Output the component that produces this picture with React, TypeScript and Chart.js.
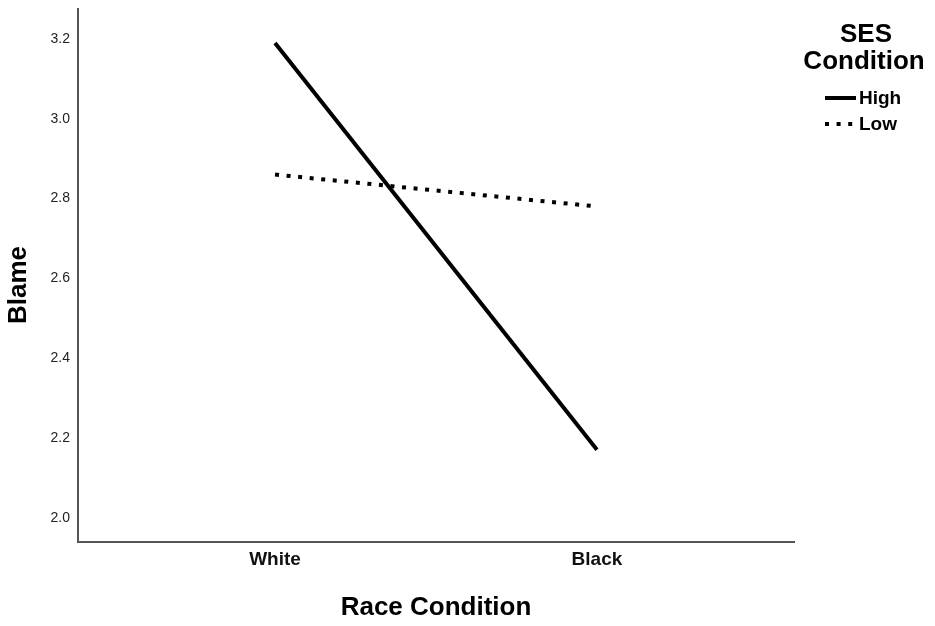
import React, { useEffect, useRef } from "react";
import { Chart, registerables } from "chart.js";

Chart.register(...registerables);

const categories = ["White", "Black"];
const seriesNames = ["High", "Low"];
const highValues = [3.19, 2.17];
const lowValues = [2.86, 2.78];
const yTicks = [2.0, 2.2, 2.4, 2.6, 2.8, 3.0, 3.2];
const legendTitle = ["SES", "Condition"];
const xTitle = "Race Condition";
const yTitle = "Blame";

const FONT = "'Liberation Sans', Arial, sans-serif";

const legendPlugin = {
  id: "sesLegend",
  afterDraw(chart: any) {
    const ctx = chart.ctx;
    ctx.save();
    // y-axis title
    ctx.save();
    ctx.translate(19, 285);
    ctx.rotate(-Math.PI / 2);
    ctx.fillStyle = "#000";
    ctx.textAlign = "center";
    ctx.textBaseline = "middle";
    ctx.font = `bold 26px ${FONT}`;
    ctx.fillText(yTitle, 0, 0);
    ctx.restore();

    ctx.fillStyle = "#000";
    ctx.textAlign = "center";
    ctx.textBaseline = "middle";
    ctx.font = `bold 26px ${FONT}`;
    ctx.fillText(legendTitle[0], 866, 35);
    ctx.fillText(legendTitle[1], 864, 62);
    const ys = [98, 124];
    chart.data.datasets.forEach((ds: any, i: number) => {
      const y = ys[i];
      ctx.beginPath();
      ctx.strokeStyle = ds.borderColor;
      ctx.lineWidth = ds.borderWidth;
      ctx.setLineDash(ds.borderDash || []);
      ctx.moveTo(825, y);
      ctx.lineTo(856, y);
      ctx.stroke();
      ctx.setLineDash([]);
      ctx.font = `bold 19px ${FONT}`;
      ctx.textAlign = "left";
      ctx.fillStyle = "#000";
      ctx.fillText(ds.label, 859, y + 1);
    });
    ctx.restore();
  },
};

export default function App() {
  const ref = useRef<HTMLCanvasElement>(null);
  useEffect(() => {
    if (!ref.current) return;
    const chart = new Chart(ref.current, {
      type: "line",
      data: {
        datasets: [
          {
            label: seriesNames[0],
            data: categories.map((c, i) => ({ x: i + 1, y: highValues[i] })),
            borderColor: "#000",
            borderWidth: 4,
            pointRadius: 0,
            borderCapStyle: "butt",
          },
          {
            label: seriesNames[1],
            data: categories.map((c, i) => ({ x: i + 1, y: lowValues[i] })),
            borderColor: "#000",
            borderWidth: 4,
            borderDash: [4, 7.6],
            pointRadius: 0,
            borderCapStyle: "butt",
          },
        ],
      },
      options: {
        animation: false,
        responsive: false,
        devicePixelRatio: 1,
        layout: { padding: { left: 0, top: 9, right: 141, bottom: 0 } },
        plugins: { legend: { display: false }, tooltip: { enabled: false } },
        scales: {
          x: {
            type: "linear",
            min: 0.388,
            max: 2.612,
            afterFit: (s: any) => {
              s.height = 84;
              s.paddingLeft = 0;
              s.paddingRight = 0;
            },
            afterBuildTicks: (s: any) => {
              s.ticks = categories.map((c, i) => ({ value: i + 1 }));
            },
            grid: { display: false, drawTicks: false },
            border: { display: true, color: "#555", width: 2 },
            ticks: {
              padding: 6,
              color: "#111",
              font: { family: FONT, size: 19, weight: "bold" },
              callback: (v: any) => categories[Math.round(v) - 1] ?? "",
              maxRotation: 0,
            },
            title: {
              display: true,
              text: xTitle,
              color: "#000",
              font: { family: FONT, size: 26, weight: "bold" },
              padding: { top: 0, bottom: 3 },
            },
          },
          y: {
            type: "linear",
            min: 1.939,
            max: 3.275,
            afterFit: (s: any) => {
              s.width = 78;
              s.paddingTop = 0;
              s.paddingBottom = 0;
            },
            afterBuildTicks: (s: any) => {
              s.ticks = yTicks.map((v) => ({ value: v }));
            },
            grid: { display: false, drawTicks: false },
            border: { display: true, color: "#555", width: 2 },
            ticks: {
              padding: 8,
              color: "#222",
              font: { family: FONT, size: 14 },
              callback: (v: any) => Number(v).toFixed(1),
            },
            title: { display: false, text: yTitle },
          },
        },
      } as any,
      plugins: [legendPlugin],
    });
    return () => chart.destroy();
  }, []);
  return (
    <div style={{ position: "fixed", left: 0, top: 0, width: 935, height: 626, background: "#fff" }}>
      <canvas ref={ref} width={935} height={626} style={{ width: 935, height: 626, display: "block" }} />
    </div>
  );
}
